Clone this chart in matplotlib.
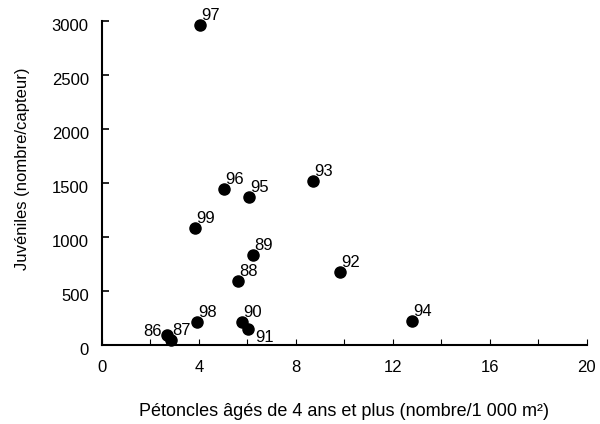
"""
Juvéniles captés vs densité de pétoncles âgés de 4 ans et plus
"""

import matplotlib
matplotlib.use("Agg")
import matplotlib.pyplot as plt
import matplotlib.transforms as mtransforms
from matplotlib.ticker import MultipleLocator

plt.rcParams['font.family'] = ['Liberation Sans', 'DejaVu Sans']

years = ['86', '87', '88', '89', '90', '91', '92', '93', '94', '95', '96', '97', '98', '99']
adults = [2.68, 2.84, 5.6, 6.23, 5.77, 6.03, 9.8, 8.7, 12.8, 6.06, 5.03, 4.04, 3.91, 3.83]
juveniles = [92, 46, 590, 831, 212, 148, 674, 1523, 222, 1375, 1449, 2963, 212, 1089]

# label offsets (points) for crowded years, everything else sits above-right
label_offsets = {'86': (-3.6, -0.7, 'right'), '91': (5.0, -9.5, 'left')}


def plot_scatter(outfile):
    fig = plt.figure(figsize=(6.0, 4.24), dpi=100)
    ax = fig.add_axes([0.17, 0.186, 0.808, 0.764])

    ax.scatter(adults, juveniles, s=64, color='black', zorder=3, clip_on=False)
    for yr, x, y in zip(years, adults, juveniles):
        dx, dy, ha = label_offsets.get(yr, (1.0, 3.6, 'left'))
        ax.annotate(yr, (x, y), xytext=(dx, dy), textcoords='offset points',
                    fontsize=12, ha=ha, va='baseline')

    ax.set_xlim(0, 20)
    ax.set_ylim(0, 3000)
    ax.xaxis.set_major_locator(MultipleLocator(4))
    ax.xaxis.set_minor_locator(MultipleLocator(2))
    ax.yaxis.set_major_locator(MultipleLocator(500))

    for side in ['top', 'right']:
        ax.spines[side].set_visible(False)
    for side in ['left', 'bottom']:
        ax.spines[side].set_linewidth(1.5)

    ax.tick_params(axis='x', which='both', direction='in', length=4,
                   width=0.8, labelsize=12, pad=11)
    ax.tick_params(axis='y', which='major', direction='in', length=5,
                   width=1.2, labelsize=12, pad=9.5)

    # y tick labels sit slightly below their ticks
    shift = mtransforms.ScaledTranslation(0, -3 / 72, fig.dpi_scale_trans)
    for lbl in ax.get_yticklabels():
        lbl.set_transform(lbl.get_transform() + shift)

    ax.set_xlabel("Pétoncles âgés de 4 ans et plus (nombre/1 000 m²)",
                  fontsize=13, labelpad=20)
    ax.set_ylabel("Juvéniles (nombre/capteur)", fontsize=12, va='center')
    ax.yaxis.set_label_coords(-0.163, 0.543)

    fig.savefig(outfile, dpi=100)


if __name__ == "__main__":
    plot_scatter("out.png")
